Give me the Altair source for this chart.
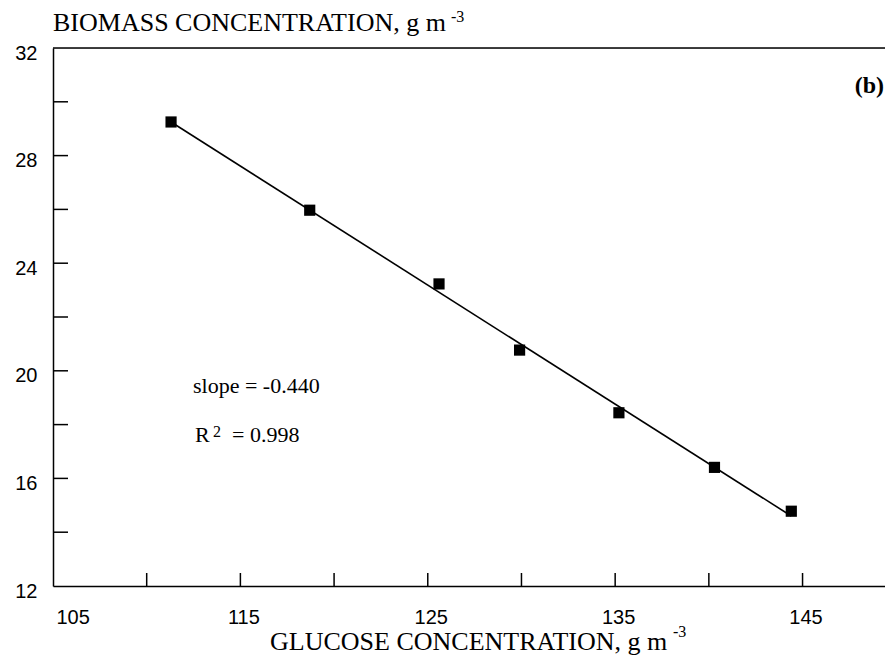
import altair as alt
import pandas as pd

# data
glucose = [111.3, 118.7, 125.6, 129.9, 135.2, 140.3, 144.4]
biomass = [29.25, 25.97, 23.23, 20.77, 18.44, 16.41, 14.78]
x_labels = [105, 115, 125, 135, 145]
x_ticks = [110, 115, 120, 125, 130, 135, 140, 145]
y_labels = [12, 16, 20, 24, 28, 32]
y_ticks = [14, 16, 18, 20, 22, 24, 26, 28, 30]
y_title = "BIOMASS CONCENTRATION, g m"
x_title = "GLUCOSE CONCENTRATION, g m"
sup = "-3"
slope_text = "slope = -0.440"
r2_main = "R"
r2_sup = "2"
r2_value = "= 0.998"
panel = "(b)"

W, H = 832, 538
SERIF = "Liberation Serif"
SANS = "Liberation Sans"

xs = alt.Scale(domain=[105, 149.4], nice=False, zero=False)
ys = alt.Scale(domain=[12, 32], nice=False, zero=False)

xaxis = alt.Axis(values=x_labels, ticks=False, tickSize=0, domain=True, domainColor="black",
                 domainWidth=1.5, labelFont=SANS, labelFontSize=20, labelColor="black",
                 labelPadding=21, labelOffset=3, grid=False, title=None)
yaxis = alt.Axis(values=y_labels, ticks=False, tickSize=0, domain=True, domainColor="black",
                 domainWidth=1.5, labelFont=SANS, labelFontSize=20, labelColor="black",
                 labelPadding=16, labelOffset=5, grid=False, title=None)


def X(f):
    return alt.X(f, type="quantitative", scale=xs, axis=xaxis)


def Y(f):
    return alt.Y(f, type="quantitative", scale=ys, axis=yaxis)


pts = pd.DataFrame({"g": glucose, "b": biomass})

fit = alt.Chart(pts).transform_regression("g", "b").mark_line(
    color="black", strokeWidth=1.6).encode(x=X("g"), y=Y("b"))

points = alt.Chart(pts).mark_square(size=125, color="black", opacity=1, filled=True).encode(
    x=X("g"), y=Y("b"))

yt = alt.Chart(pd.DataFrame({"b": y_ticks})).mark_rule(color="black", strokeWidth=1.5).encode(
    y=Y("b"), x=alt.value(0), x2=alt.value(15))

xt = alt.Chart(pd.DataFrame({"g": x_ticks})).mark_rule(color="black", strokeWidth=1.5).encode(
    x=X("g"), y=alt.value(H), y2=alt.value(H - 13))

top = alt.Chart(pd.DataFrame({"b": [32]})).mark_rule(color="black", strokeWidth=1.5).encode(
    y=Y("b"), x=alt.value(0), x2=alt.value(W))


def txt(s, x, y, size, font=SERIF, weight="normal", align="left"):
    return alt.Chart(pd.DataFrame({"t": [s]})).mark_text(
        font=font, fontSize=size, fontWeight=weight, align=align, baseline="alphabetic",
        color="black").encode(text="t:N", x=alt.value(x), y=alt.value(y))


texts = [
    txt(y_title, 0, -17, 26),
    txt(sup, 398, -26, 16),
    txt(x_title, 217, 602, 26),
    txt(sup, 620, 589, 16),
    txt(slope_text, 140, 345, 22),
    txt(r2_main, 142, 394, 22),
    txt(r2_sup, 160, 389, 16),
    txt(r2_value, 179, 394, 22),
    txt(panel, 831, 45, 24, weight="bold", align="right"),
]

chart = alt.layer(fit, points, yt, xt, top, *texts).properties(
    width=W, height=H,
    autosize=alt.AutoSizeParams(type="none"),
    padding={"left": 45, "top": 40, "right": 0, "bottom": 69},
).configure_view(stroke=None).configure(background="white")

chart.save("out.html", embed_options={"renderer": "svg", "actions": False})
